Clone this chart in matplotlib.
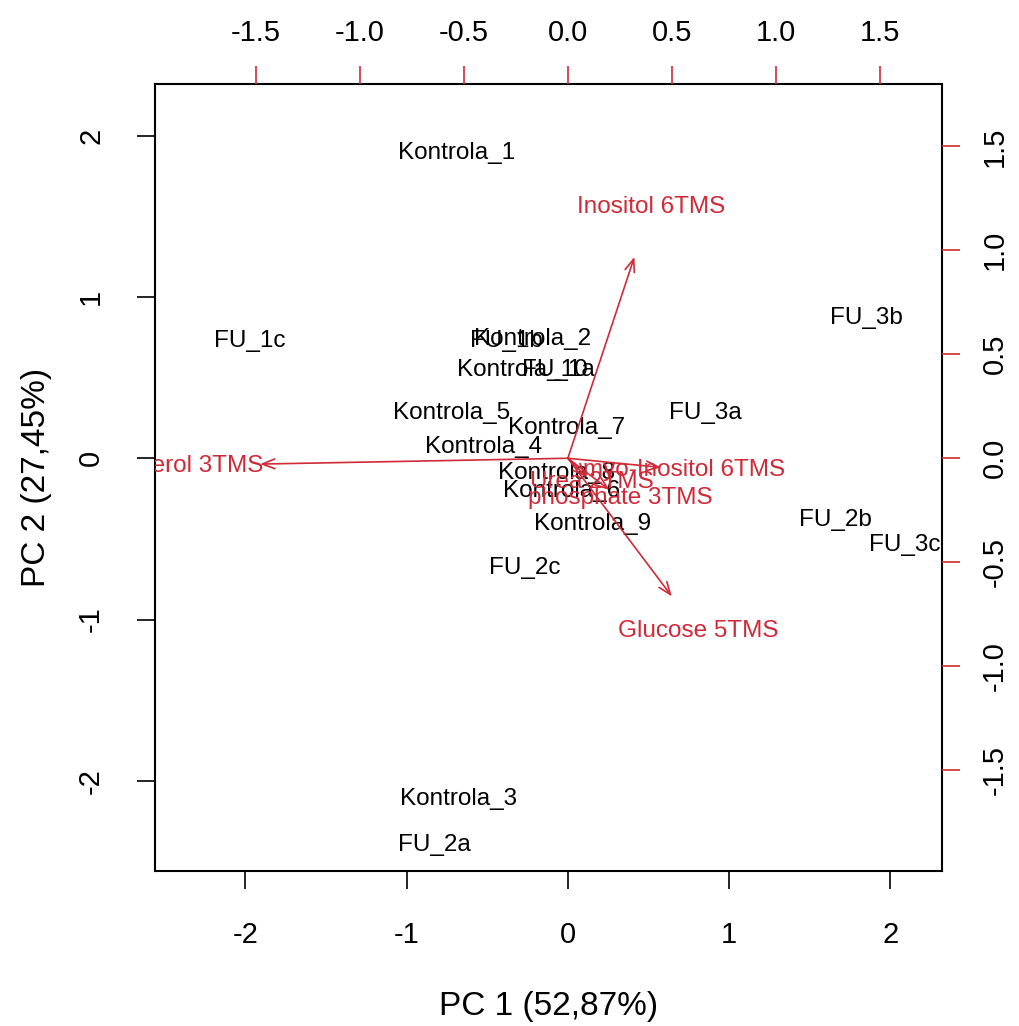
import matplotlib
matplotlib.use("Agg")
import matplotlib.pyplot as plt

plt.rcParams['font.family'] = ['Liberation Sans', 'DejaVu Sans']
plt.rcParams['axes.unicode_minus'] = False

# PCA scores (PC1, PC2) for each sample
samples = ['Kontrola_1', 'FU_1c', 'FU_1b', 'Kontrola_2', 'Kontrola_10', 'FU_1a',
           'Kontrola_5', 'Kontrola_7', 'Kontrola_4', 'FU_3a', 'Kontrola_8',
           'Kontrola_6', 'Kontrola_9', 'FU_2c', 'FU_2b', 'FU_3c', 'FU_3b',
           'Kontrola_3', 'FU_2a']
pc1 = [-0.69, -1.97, -0.38, -0.22, -0.28, -0.06,
       -0.72, -0.01, -0.52, 0.85, -0.07,
       -0.04, 0.155, -0.27, 1.66, 2.09, 1.85,
       -0.68, -0.83]
pc2 = [1.89, 0.73, 0.73, 0.74, 0.55, 0.55,
       0.28, 0.19, 0.07, 0.28, -0.09,
       -0.20, -0.41, -0.68, -0.38, -0.54, 0.87,
       -2.11, -2.40]

# variable loadings
variables = ['Glycerol 3TMS', 'Inositol 6TMS', 'Glucose 5TMS',
             'myo-Inositol 6TMS', 'Urea 2TMS', 'phosphate 3TMS']
load1 = [-1.85, 0.40, 0.625, 0.56, 0.115, 0.25]
load2 = [-0.035, 1.21, -0.83, -0.055, -0.115, -0.19]

score_lim = (-2.56, 2.32)
load_lim = (-1.985, 1.799)
red = '#d02a38'

fig = plt.figure(figsize=(10.2, 10.26), dpi=100)
pos = [0.152, 0.151, 0.7715, 0.767]

ax = fig.add_axes(pos)
ax.set_xlim(score_lim)
ax.set_ylim(score_lim)
for x, y, s in zip(pc1, pc2, samples):
    ax.text(x, y, s, ha='center', va='center', fontsize=17.5, color='black', clip_on=True)
ax.set_xticks([-2, -1, 0, 1, 2])
ax.set_yticks([-2, -1, 0, 1, 2])
ax.tick_params(direction='out', length=13, width=1.2, labelsize=21, pad=23)
for lbl in ax.get_yticklabels():
    lbl.set_rotation(90)
    lbl.set_va('center')
ax.set_xlabel('PC 1 (52,87%)', fontsize=24, labelpad=30)
ax.set_ylabel('PC 2 (27,45%)', fontsize=24, labelpad=18)
for sp in ax.spines.values():
    sp.set_linewidth(1.5)

# loadings on their own scale (top / right axes)
ax2 = fig.add_axes(pos, frameon=False)
ax2.set_xlim(load_lim)
ax2.set_ylim(load_lim)
ax2.patch.set_alpha(0)
for x, y, s in zip(load1, load2, variables):
    ax2.annotate('', xy=(0.8 * x, 0.8 * y), xytext=(0, 0),
                 arrowprops=dict(arrowstyle='->,head_length=0.9,head_width=0.35',
                                 color=red, lw=1.2, shrinkA=0, shrinkB=0))
    ax2.text(x, y, s, ha='center', va='center', fontsize=17.5, color=red, clip_on=True)
ax2.xaxis.tick_top()
ax2.yaxis.tick_right()
ax2.set_xticks([-1.5, -1.0, -0.5, 0.0, 0.5, 1.0, 1.5])
ax2.set_yticks([-1.5, -1.0, -0.5, 0.0, 0.5, 1.0, 1.5])
ax2.set_xticklabels([f'{v:.1f}' for v in ax2.get_xticks()])
ax2.set_yticklabels([f'{v:.1f}' for v in ax2.get_yticks()])
ax2.tick_params(direction='out', length=13, width=1.2, color=red, labelsize=21)
ax2.tick_params(axis='x', pad=14)
ax2.tick_params(axis='y', pad=15)
for lbl in ax2.get_yticklabels():
    lbl.set_rotation(90)
    lbl.set_va('center')

fig.savefig('out.png', dpi=100)
